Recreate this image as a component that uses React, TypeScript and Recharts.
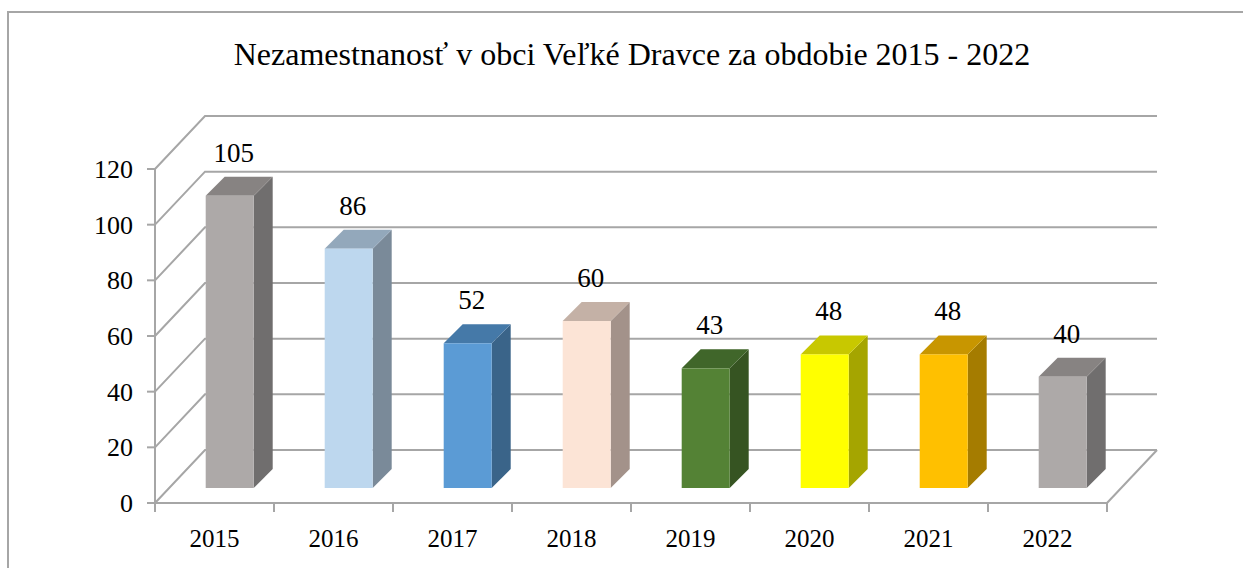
import { BarChart, Bar, XAxis, YAxis, CartesianGrid, LabelList } from "recharts";

const years = ["2015", "2016", "2017", "2018", "2019", "2020", "2021", "2022"];
const unemployed = [105, 86, 52, 60, 43, 48, 48, 40];
const yTicks = [0, 20, 40, 60, 80, 100, 120];

const data = years.map((year, i) => ({ year, value: unemployed[i] }));

// front / side / top shades for each column
const FRONT = ["#ADA9A8", "#BDD7EE", "#5B9BD5", "#FCE4D6", "#548235", "#FFFF00", "#FFC000", "#ADA9A8"];
const SIDE = ["#706E6E", "#7A8A99", "#3A6489", "#A3928A", "#365422", "#A5A500", "#A57C00", "#706E6E"];
const TOP = ["#878382", "#93A8BB", "#4579A8", "#C4B1A6", "#40662A", "#C8C800", "#C89600", "#878382"];

const W = 1243;
const H = 568;
const LEFT = 155;
const RIGHT = 1107;
const TOP_Y = 169;
const BOTTOM_Y = 503;
const WALL_DX = 50;
const WALL_DY = -53;
const SHIFT = 15; // bars sit partway into the depth
const DEPTH = 19;
const GRID = "#A6A6A6";
const FONT = "'Liberation Serif', 'Times New Roman', serif";
const BAND = (RIGHT - LEFT) / years.length;
const textStyle = { fontFamily: FONT, fill: "#000" };

const Bar3D = (props: any) => {
  const { x, y, width, height, index } = props;
  const X = x + SHIFT;
  const Y = y - SHIFT;
  const w = width;
  const h = height;
  const d = DEPTH;
  return (
    <g>
      <polygon
        points={`${X + w},${Y} ${X + w + d},${Y - d} ${X + w + d},${Y + h - d} ${X + w},${Y + h}`}
        fill={SIDE[index]}
      />
      <polygon
        points={`${X},${Y} ${X + d},${Y - d} ${X + w + d},${Y - d} ${X + w},${Y}`}
        fill={TOP[index]}
      />
      <rect x={X} y={Y} width={w} height={h} fill={FRONT[index]} />
    </g>
  );
};

const gridLine = (props: any) => {
  const { x1, y1, x2, key } = props;
  const isFloor = Math.abs(y1 - BOTTOM_Y) < 1;
  return (
    <g key={key}>
      <polyline
        points={`${x1},${y1} ${x1 + WALL_DX},${y1 + WALL_DY} ${x2 + WALL_DX},${y1 + WALL_DY}`}
        fill="none"
        stroke={GRID}
        strokeWidth={2}
      />
      {isFloor && (
        <line x1={x2} y1={y1} x2={x2 + WALL_DX} y2={y1 + WALL_DY} stroke={GRID} strokeWidth={2} />
      )}
    </g>
  );
};

const YearTick = (props: any) => {
  const { x, y, payload, index } = props;
  const left = x - BAND / 2;
  return (
    <g>
      <line x1={left} y1={y} x2={left} y2={y + 9} stroke={GRID} strokeWidth={2} />
      {index === years.length - 1 && (
        <line x1={x + BAND / 2} y1={y} x2={x + BAND / 2} y2={y + 9} stroke={GRID} strokeWidth={2} />
      )}
      <text x={x} y={y + 44} textAnchor="middle" style={{ ...textStyle, fontSize: 25 }}>
        {payload.value}
      </text>
    </g>
  );
};

const ValueTick = (props: any) => {
  const { x, y, payload } = props;
  return (
    <text x={x} y={y + 9} textAnchor="end" style={{ ...textStyle, fontSize: 26 }}>
      {payload.value}
    </text>
  );
};

const ValueLabel = (props: any) => {
  const { x, y, width, value } = props;
  return (
    <text
      x={x + SHIFT + width / 2 + 4}
      y={y - SHIFT - 34}
      textAnchor="middle"
      style={{ ...textStyle, fontSize: 27 }}
    >
      {value}
    </text>
  );
};

export default function App() {
  return (
    <div style={{ position: "absolute", left: 0, top: 0, width: W, height: H, overflow: "hidden", background: "#fff" }}>
      <svg width={W} height={H} style={{ position: "absolute", left: 0, top: 0 }}>
        <rect x={8} y={12} width={W + 50} height={H + 50} fill="none" stroke={GRID} strokeWidth={2} />
        <text x={632} y={65} textAnchor="middle" style={{ ...textStyle, fontSize: 32 }}>
          Nezamestnanosť v obci Veľké Dravce za obdobie 2015 - 2022
        </text>
      </svg>
      <div style={{ position: "absolute", left: 0, top: 0 }}>
        <BarChart
          width={W}
          height={H}
          data={data}
          margin={{ top: TOP_Y, right: W - RIGHT, bottom: H - BOTTOM_Y - 40, left: LEFT - 60 }}
          barCategoryGap="30%"
        >
          <CartesianGrid horizontal={gridLine} vertical={false} />
          <XAxis
            dataKey="year"
            height={40}
            axisLine={{ stroke: GRID, strokeWidth: 2 }}
            tickLine={false}
            tickSize={0}
            tickMargin={0}
            tick={<YearTick />}
            interval={0}
          />
          <YAxis
            width={60}
            domain={[0, 120]}
            ticks={yTicks}
            axisLine={{ stroke: GRID, strokeWidth: 2 }}
            tickLine={{ stroke: GRID, strokeWidth: 2 }}
            tickSize={8}
            tickMargin={14}
            tick={<ValueTick />}
          />
          <Bar dataKey="value" shape={<Bar3D />} isAnimationActive={false}>
            <LabelList dataKey="value" content={<ValueLabel />} />
          </Bar>
        </BarChart>
      </div>
    </div>
  );
}
